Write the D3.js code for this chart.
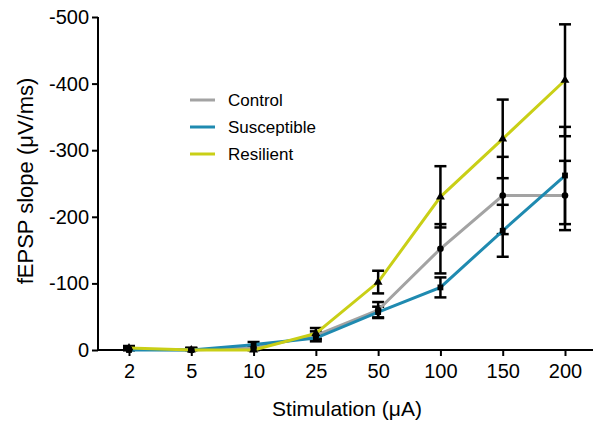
<!DOCTYPE html>
<html>
<head>
<meta charset="utf-8">
<script src="https://cdn.jsdelivr.net/npm/d3@7"></script>
<style>
  body { margin: 0; background: #fff; }
  text { font-family: "Liberation Sans", Arial, sans-serif; }
</style>
</head>
<body>
<script>
// stimulation levels (µA)
var stimulations = ["2", "5", "10", "25", "50", "100", "150", "200"];
var yTicks = [0, 100, 200, 300, 400, 500];

// mean fEPSP slope (shown as negative on the axis) and SEM
var controlMean = [1, 0, 3, 22, 60, 152, 232, 232];
var controlErr = [3, 3, 4, 6, 12, 37, 58, 52];
var susceptibleMean = [0, 0, 8, 18, 57, 94, 179, 262];
var susceptibleErr = [3, 3, 4, 5, 8, 15, 39, 73];
var resilientMean = [3, 0, 0, 25, 102, 230, 317, 405];
var resilientErr = [3, 3, 4, 8, 17, 46, 59, 84];

var seriesNames = ["Control", "Susceptible", "Resilient"];
var seriesColors = ["#a3a3a3", "#1f8ab0", "#c9cf16"];

var svgWidth = 593;
var svgHeight = 421;

var svg = d3.select("body").append("svg")
  .attr("width", svgWidth)
  .attr("height", svgHeight);

var xScale = d3.scalePoint()
  .domain(stimulations)
  .range([129, 565]);

var yScale = d3.scaleLinear()
  .domain([0, 500])
  .range([350, 17]);

// axes
var xAxis = svg.append("g")
  .attr("transform", "translate(0,350)")
  .call(d3.axisBottom(xScale).tickSize(6).tickPadding(4));
xAxis.select(".domain").attr("d", "M98,0H596");

var yAxis = svg.append("g")
  .attr("transform", "translate(98,0)")
  .call(d3.axisLeft(yScale).tickValues(yTicks).tickSize(6).tickPadding(3)
    .tickFormat(function(d) { return d == 0 ? "0" : "-" + d; }));

svg.selectAll(".domain, .tick line")
  .attr("stroke", "#000")
  .attr("stroke-width", 2);
svg.selectAll(".tick text")
  .attr("font-size", 20)
  .attr("fill", "#000");
yAxis.selectAll(".domain").attr("d", "M0,350V17").attr("stroke-width", 2);
xAxis.selectAll(".tick text").attr("dy", "0.9em");

// axis titles
svg.append("text")
  .attr("x", 347)
  .attr("y", 416)
  .attr("text-anchor", "middle")
  .attr("font-size", 21)
  .text("Stimulation (\u03bcA)");

svg.append("text")
  .attr("transform", "translate(33,181) rotate(-90)")
  .attr("text-anchor", "middle")
  .attr("font-size", 22)
  .text("fEPSP slope (\u03bcV/ms)");

var series = [
  { name: "Control", mean: controlMean, err: controlErr, shape: d3.symbolCircle },
  { name: "Susceptible", mean: susceptibleMean, err: susceptibleErr, shape: d3.symbolSquare },
  { name: "Resilient", mean: resilientMean, err: resilientErr, shape: d3.symbolTriangle }
];

var line = d3.line()
  .x(function(d, i) { return xScale(stimulations[i]); })
  .y(function(d) { return yScale(d); });

// error bars
series.forEach(function(s) {
  var g = svg.append("g");
  stimulations.forEach(function(st, i) {
    var x = xScale(st);
    var top = yScale(s.mean[i] + s.err[i]);
    var bot = yScale(Math.max(s.mean[i] - s.err[i], 0));
    g.append("line").attr("x1", x).attr("x2", x).attr("y1", top).attr("y2", bot)
      .attr("stroke", "#000").attr("stroke-width", 2.5);
    g.append("line").attr("x1", x - 6).attr("x2", x + 6).attr("y1", top).attr("y2", top)
      .attr("stroke", "#000").attr("stroke-width", 2.5);
    g.append("line").attr("x1", x - 6).attr("x2", x + 6).attr("y1", bot).attr("y2", bot)
      .attr("stroke", "#000").attr("stroke-width", 2.5);
  });
});

// lines
series.forEach(function(s, k) {
  svg.append("path")
    .datum(s.mean)
    .attr("fill", "none")
    .attr("stroke", seriesColors[k])
    .attr("stroke-width", 3)
    .attr("d", line);
});

// markers
series.forEach(function(s) {
  svg.append("g").selectAll("path")
    .data(s.mean)
    .enter().append("path")
    .attr("transform", function(d, i) {
      return "translate(" + xScale(stimulations[i]) + "," + yScale(d) + ")";
    })
    .attr("d", d3.symbol().type(s.shape).size(34))
    .attr("fill", "#000");
});

// legend
var legend = svg.selectAll(".legend")
  .data(seriesNames)
  .enter().append("g")
  .attr("class", "legend")
  .attr("transform", function(d, i) { return "translate(0," + (100 + i * 27) + ")"; });

legend.append("line")
  .attr("x1", 190).attr("x2", 215)
  .attr("stroke", function(d, i) { return seriesColors[i]; })
  .attr("stroke-width", 3);

legend.append("text")
  .attr("x", 228)
  .attr("y", 6)
  .attr("font-size", 17)
  .text(function(d) { return d; });
</script>
</body>
</html>
